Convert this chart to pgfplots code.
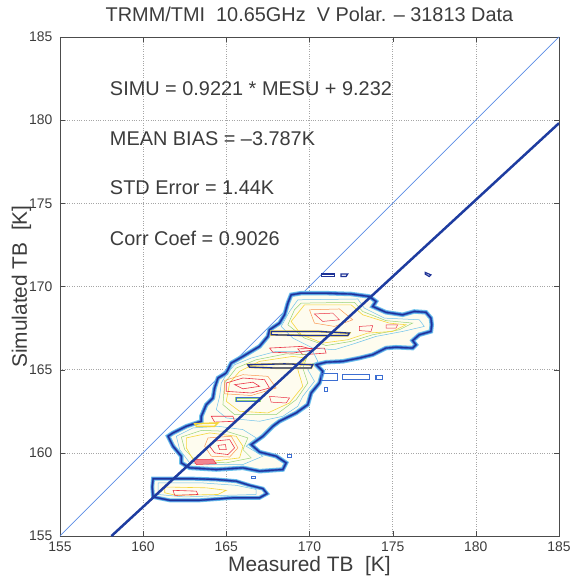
\documentclass[border=0pt]{standalone}
\usepackage{pgfplots}
\pgfplotsset{compat=1.18}
\usepackage{fontspec}
\setmainfont{Liberation Sans}
\definecolor{cdb}{RGB}{30,50,150}
\definecolor{cb}{RGB}{60,110,210}
\definecolor{cc}{RGB}{110,195,235}
\definecolor{cg}{RGB}{150,210,120}
\definecolor{cy}{RGB}{245,215,60}
\definecolor{co}{RGB}{250,150,80}
\definecolor{cr}{RGB}{235,50,70}
\definecolor{regline}{RGB}{30,60,160}
\definecolor{oneline}{RGB}{90,140,230}
\definecolor{txt}{RGB}{60,60,60}
\begin{document}
\begin{tikzpicture}
\useasboundingbox (-60bp,-43bp) rectangle (513bp,537bp);
\begin{axis}[
  at={(0,0)}, anchor=south west,
  width=500bp, height=500bp, scale only axis,
  xmin=155, xmax=185, ymin=155, ymax=185,
  xtick={155,160,...,185}, ytick={155,160,...,185},
  grid=major, grid style={dotted, gray!70, line width=0.5pt},
  axis line style={gray!60!black, line width=0.5pt},
  tick align=inside, major tick length=5bp, tick style={gray!60!black},
  /pgf/number format/assume math mode=true,
  ticklabel style={font=\fontsize{14}{16}\selectfont, text=txt},
  xticklabel style={yshift=-2bp},
  yticklabel style={xshift=-4bp},
  title={TRMM/TMI\ \ 10.65GHz\ \ V Polar. -- 31813 Data},
  title style={at={(axis description cs:0.5,1.018)}, anchor=base, font=\fontsize{20}{22}\selectfont, text=txt},
  xlabel={Measured TB\ \ [K]},
  xlabel style={at={(axis description cs:0.5,-0.07)}, anchor=base, font=\fontsize{21}{23}\selectfont, text=txt},
  ylabel={Simulated TB\ \ [K]},
  ylabel style={at={(axis description cs:-0.066,0.5)}, anchor=base, rotate=0, font=\fontsize{21}{23}\selectfont, text=txt},
  clip=true,
]
% 1:1 line
\addplot[oneline, line width=0.7pt] coordinates {(155,155) (185,185)};

% ---- main band outer boundary (rim layers) ----
\addplot[cc, line width=4.5bp, fill=cy!8] coordinates {
(168.9,169.5) (169.5,169.6) (171.0,169.6) (172.5,169.55) (173.6,169.4) (174.0,169.1) (173.8,168.8) (174.6,168.45) (175.6,168.3) (176.3,168.5) (177.0,168.45) (177.3,168.1) (177.35,167.7) (177.3,167.3) (176.6,167.1) (176.2,166.75) (176.4,166.5) (176.2,166.3) (175.2,166.35) (174.6,166.3) (173.8,165.9) (173.0,165.7) (172.0,165.5) (171.0,165.45) (170.4,165.3) (170.8,164.9) (170.6,164.2) (170.1,163.6) (169.9,162.9) (169.2,162.4) (168.2,161.9) (167.8,161.6) (167.2,161.0) (166.5,160.5) (167.0,160.05) (168.0,159.8) (168.6,159.4) (168.4,159.0) (167.0,158.9) (166.0,159.1) (164.4,159.0) (162.8,159.1) (162.3,159.4) (162.3,159.8) (161.8,160.4) (161.5,161.0) (161.8,161.2) (162.6,161.6) (163.5,161.9) (163.5,162.2) (163.8,162.9) (164.2,163.3) (164.3,163.9) (164.5,164.5) (165.0,164.8) (165.3,165.4) (166.0,165.8) (167.0,166.4) (167.5,167.0) (167.6,167.4) (168.2,167.8) (168.5,168.3) (168.7,169.0)} --cycle;
\addplot[cb, line width=2.6bp] coordinates {
(168.9,169.5) (169.5,169.6) (171.0,169.6) (172.5,169.55) (173.6,169.4) (174.0,169.1) (173.8,168.8) (174.6,168.45) (175.6,168.3) (176.3,168.5) (177.0,168.45) (177.3,168.1) (177.35,167.7) (177.3,167.3) (176.6,167.1) (176.2,166.75) (176.4,166.5) (176.2,166.3) (175.2,166.35) (174.6,166.3) (173.8,165.9) (173.0,165.7) (172.0,165.5) (171.0,165.45) (170.4,165.3) (170.8,164.9) (170.6,164.2) (170.1,163.6) (169.9,162.9) (169.2,162.4) (168.2,161.9) (167.8,161.6) (167.2,161.0) (166.5,160.5) (167.0,160.05) (168.0,159.8) (168.6,159.4) (168.4,159.0) (167.0,158.9) (166.0,159.1) (164.4,159.0) (162.8,159.1) (162.3,159.4) (162.3,159.8) (161.8,160.4) (161.5,161.0) (161.8,161.2) (162.6,161.6) (163.5,161.9) (163.5,162.2) (163.8,162.9) (164.2,163.3) (164.3,163.9) (164.5,164.5) (165.0,164.8) (165.3,165.4) (166.0,165.8) (167.0,166.4) (167.5,167.0) (167.6,167.4) (168.2,167.8) (168.5,168.3) (168.7,169.0)} --cycle;
\addplot[cdb, line width=1.2bp] coordinates {
(168.9,169.5) (169.5,169.6) (171.0,169.6) (172.5,169.55) (173.6,169.4) (174.0,169.1) (173.8,168.8) (174.6,168.45) (175.6,168.3) (176.3,168.5) (177.0,168.45) (177.3,168.1) (177.35,167.7) (177.3,167.3) (176.6,167.1) (176.2,166.75) (176.4,166.5) (176.2,166.3) (175.2,166.35) (174.6,166.3) (173.8,165.9) (173.0,165.7) (172.0,165.5) (171.0,165.45) (170.4,165.3) (170.8,164.9) (170.6,164.2) (170.1,163.6) (169.9,162.9) (169.2,162.4) (168.2,161.9) (167.8,161.6) (167.2,161.0) (166.5,160.5) (167.0,160.05) (168.0,159.8) (168.6,159.4) (168.4,159.0) (167.0,158.9) (166.0,159.1) (164.4,159.0) (162.8,159.1) (162.3,159.4) (162.3,159.8) (161.8,160.4) (161.5,161.0) (161.8,161.2) (162.6,161.6) (163.5,161.9) (163.5,162.2) (163.8,162.9) (164.2,163.3) (164.3,163.9) (164.5,164.5) (165.0,164.8) (165.3,165.4) (166.0,165.8) (167.0,166.4) (167.5,167.0) (167.6,167.4) (168.2,167.8) (168.5,168.3) (168.7,169.0)} --cycle;

% ---- bottom lobe ----
\addplot[cc, line width=4bp, fill=cy!8] coordinates {
(160.6,158.45) (162.0,158.45) (163.0,158.45) (164.4,158.4) (165.6,158.3) (166.4,158.05) (167.2,157.85) (167.45,157.55) (167.0,157.3) (165.4,157.3) (163.4,157.15) (161.6,157.15) (160.6,157.35) (160.55,157.95)} --cycle;
\addplot[cb, line width=2.4bp] coordinates {
(160.6,158.45) (162.0,158.45) (163.0,158.45) (164.4,158.4) (165.6,158.3) (166.4,158.05) (167.2,157.85) (167.45,157.55) (167.0,157.3) (165.4,157.3) (163.4,157.15) (161.6,157.15) (160.6,157.35) (160.55,157.95)} --cycle;
\addplot[cdb, line width=1.2bp] coordinates {
(160.6,158.45) (162.0,158.45) (163.0,158.45) (164.4,158.4) (165.6,158.3) (166.4,158.05) (167.2,157.85) (167.45,157.55) (167.0,157.3) (165.4,157.3) (163.4,157.15) (161.6,157.15) (160.6,157.35) (160.55,157.95)} --cycle;

% ---- inner contours: top lobe ----
\addplot[cc, line width=0.5bp] coordinates {(169.3,169.2) (172.9,169.25) (173.3,168.7) (174.5,168.1) (176.6,168.0) (176.9,167.6) (175.6,167.3) (174.0,167.0) (172.8,166.6) (171.5,166.2) (170.2,166.3) (169.0,166.9) (168.3,167.6) (168.8,168.5)} --cycle;
\addplot[cg, line width=0.5bp] coordinates {(169.5,169.0) (172.7,169.05) (173.2,168.5) (174.6,167.95) (176.2,167.8) (175.4,167.4) (173.8,167.1) (172.5,166.7) (171.0,166.45) (169.7,166.9) (168.7,167.7) (169.1,168.6)} --cycle;
\addplot[cy, line width=0.6bp] coordinates {(169.7,168.9) (172.5,168.9) (173.2,168.3) (174.8,167.8) (175.8,167.7) (175.0,167.3) (173.5,167.2) (172.3,166.8) (170.8,166.6) (169.5,167.1) (168.9,167.9)} --cycle;
\addplot[co, line width=0.5bp] coordinates {(170.0,168.6) (171.8,168.65) (172.6,168.0) (171.5,167.6) (170.3,167.8)} --cycle;
\addplot[cr, line width=0.5bp] coordinates {(170.3,168.35) (171.4,168.4) (171.8,168.0) (170.8,167.9)} --cycle;
\addplot[cr, line width=0.5bp] coordinates {(173.0,167.6) (173.8,167.65) (173.7,167.3) (173.0,167.35)} --cycle;
\addplot[cr, line width=0.5bp] coordinates {(174.6,167.7) (175.3,167.7) (175.2,167.5) (174.6,167.5)} --cycle;
\addplot[cr, line width=0.6bp] coordinates {(169.3,166.25) (170.9,166.3) (171.0,166.0) (169.6,165.9)} --cycle;
% dark streak
\addplot[cy, line width=2bp] coordinates {(167.7,167.3) (170.5,167.3) (172.4,167.2) (172.3,167.05) (170.0,167.05) (167.7,167.1)} --cycle;
\addplot[cdb, line width=1.3bp] coordinates {(167.7,167.3) (170.5,167.3) (172.4,167.2) (172.3,167.05) (170.0,167.05) (167.7,167.1)} --cycle;

% ---- inner contours: middle lobe ----
\addplot[cc, line width=0.5bp] coordinates {(165.5,165.3) (166.5,165.7) (168.0,166.1) (170.2,166.1) (170.5,165.5) (169.9,165.0) (170.3,164.3) (169.6,163.4) (169.3,162.8) (168.4,162.2) (167.0,161.9) (165.0,162.1) (164.4,162.6) (164.6,163.4) (164.7,164.2) (165.0,164.7)} --cycle;
\addplot[cg, line width=0.5bp] coordinates {(165.6,165.1) (166.8,165.6) (168.6,165.95) (169.9,165.9) (169.6,165.1) (169.9,164.2) (169.2,163.2) (168.0,162.3) (165.5,162.3) (164.8,162.9) (164.9,164.2)} --cycle;
\addplot[cy, line width=0.6bp] coordinates {(165.8,164.9) (167.0,165.5) (169.0,165.8) (169.8,165.7) (169.3,165.0) (169.6,164.0) (168.8,163.0) (167.5,162.4) (165.8,162.5) (165.0,163.1) (165.2,164.2)} --cycle;
\addplot[co, line width=0.5bp] coordinates {(164.9,164.35) (166.0,164.7) (167.5,164.6) (168.0,163.9) (166.5,163.45) (164.9,163.55)} --cycle;
\addplot[cr, line width=0.6bp] coordinates {(165.0,164.2) (166.0,164.5) (167.3,164.4) (167.6,163.9) (166.5,163.6) (165.0,163.7)} --cycle;
\addplot[cr, line width=0.6bp] coordinates {(165.5,164.1) (166.6,164.25) (167.0,164.0) (166.0,163.85)} --cycle;
\addplot[cr, line width=0.6bp] coordinates {(167.6,166.3) (169.5,166.4) (170.3,166.2) (169.0,166.0) (167.8,166.05)} --cycle;
\addplot[cr, line width=0.6bp] coordinates {(164.1,162.2) (165.4,162.2) (165.5,161.9) (164.3,161.85)} --cycle;
\addplot[cr, line width=0.5bp] coordinates {(167.6,163.4) (168.8,163.3) (168.6,163.0) (167.7,163.05)} --cycle;
% dark streaks
\addplot[cy, line width=2bp] coordinates {(166.3,165.3) (168.5,165.35) (170.2,165.3) (170.1,165.1) (168.0,165.1) (166.4,165.15)} --cycle;
\addplot[cdb, line width=1.3bp] coordinates {(166.3,165.3) (168.5,165.35) (170.2,165.3) (170.1,165.1) (168.0,165.1) (166.4,165.15)} --cycle;
\addplot[cg, line width=2bp] coordinates {(165.6,163.3) (167.0,163.3) (167.0,163.1) (165.6,163.1)} --cycle;
\addplot[cb, line width=1bp] coordinates {(165.6,163.3) (167.0,163.3) (167.0,163.1) (165.6,163.1)} --cycle;

% ---- inner contours: lower middle lobe ----
\addplot[cc, line width=0.5bp] coordinates {(162.0,161.0) (163.0,161.5) (164.5,161.6) (166.0,161.4) (166.8,160.9) (166.2,160.4) (167.2,159.8) (166.0,159.3) (164.0,159.3) (162.8,159.4) (162.2,160.2)} --cycle;
\addplot[cg, line width=0.5bp] coordinates {(162.3,160.95) (163.5,161.35) (165.0,161.3) (166.3,160.9) (166.0,160.2) (166.5,159.7) (165.0,159.4) (163.2,159.5) (162.5,160.2)} --cycle;
\addplot[cy, line width=0.6bp] coordinates {(162.6,160.9) (164.0,161.2) (165.6,161.0) (166.0,160.4) (165.8,159.7) (164.2,159.5) (163.0,159.6) (162.6,160.3)} --cycle;
\addplot[co, line width=0.5bp] coordinates {(163.9,160.9) (165.3,161.0) (165.7,160.3) (165.2,159.75) (164.1,159.8) (163.7,160.4)} --cycle;
\addplot[cr, line width=0.6bp] coordinates {(164.2,160.7) (165.2,160.8) (165.5,160.3) (165.1,159.9) (164.3,160.0) (164.0,160.4)} --cycle;
\addplot[cr, line width=0.6bp] coordinates {(164.5,160.45) (164.95,160.5) (165.0,160.2) (164.6,160.2)} --cycle;
\addplot[cr, line width=0.5bp, fill=cr!60] coordinates {(163.0,159.6) (164.2,159.62) (164.4,159.35) (163.2,159.3)} --cycle;
\addplot[cy, line width=1.5bp] coordinates {(163.1,161.75) (164.5,161.8) (164.3,161.6) (163.2,161.6)} --cycle;

% ---- inner contours: bottom lobe ----
\addplot[cc, line width=0.5bp] coordinates {(160.9,158.2) (163.5,158.2) (165.6,158.05) (166.8,157.8) (166.8,157.5) (165.0,157.45) (162.5,157.35) (160.9,157.5)} --cycle;
\addplot[cy, line width=0.6bp] coordinates {(161.3,157.95) (163.8,157.9) (165.0,157.75) (164.5,157.5) (162.0,157.45) (161.3,157.6)} --cycle;
\addplot[cr, line width=0.6bp] coordinates {(161.8,157.75) (163.2,157.7) (163.3,157.5) (161.9,157.45)} --cycle;

% ---- small isolated contours ----
\addplot[cdb, line width=1.2bp] coordinates {(170.7,170.75) (171.5,170.75) (171.5,170.6) (170.7,170.6)} --cycle;
\addplot[cdb, line width=1.2bp] coordinates {(171.9,170.75) (172.3,170.75) (172.2,170.6) (171.9,170.6)} --cycle;
\addplot[cdb, line width=1.2bp] coordinates {(176.95,170.85) (177.3,170.7) (177.2,170.6) (176.95,170.75)} --cycle;
\addplot[cb, line width=1.2bp] coordinates {(170.7,164.75) (171.7,164.75) (171.7,164.35) (170.7,164.35)} --cycle;
\addplot[cb, line width=1.2bp] coordinates {(172.0,164.7) (173.6,164.7) (173.6,164.4) (172.0,164.4)} --cycle;
\addplot[cb, line width=1.2bp] coordinates {(174.0,164.65) (174.4,164.65) (174.4,164.4) (174.0,164.4)} --cycle;
\addplot[cb, line width=1bp] coordinates {(168.7,159.9) (168.95,159.9) (168.95,159.7) (168.7,159.7)} --cycle;
\addplot[cb, line width=1bp] coordinates {(166.5,158.6) (166.75,158.6) (166.75,158.45) (166.5,158.45)} --cycle;
\addplot[cb, line width=1bp] coordinates {(170.9,163.9) (171.1,163.9) (171.1,163.7) (170.9,163.7)} --cycle;

% regression line
\addplot[regline, line width=2.5bp] coordinates {(158.095,155) (185,179.82)};

% annotations
\node[anchor=west, text=txt, font=\fontsize{20}{22}\selectfont] at (axis cs:157.8,181.9) {SIMU = 0.9221 * MESU + 9.232};
\node[anchor=west, text=txt, font=\fontsize{20}{22}\selectfont] at (axis cs:157.8,178.9) {MEAN BIAS = --3.787K};
\node[anchor=west, text=txt, font=\fontsize{20}{22}\selectfont] at (axis cs:157.8,175.93) {STD Error = 1.44K};
\node[anchor=west, text=txt, font=\fontsize{20}{22}\selectfont] at (axis cs:157.8,172.9) {Corr Coef = 0.9026};
\end{axis}
\end{tikzpicture}
\end{document}
